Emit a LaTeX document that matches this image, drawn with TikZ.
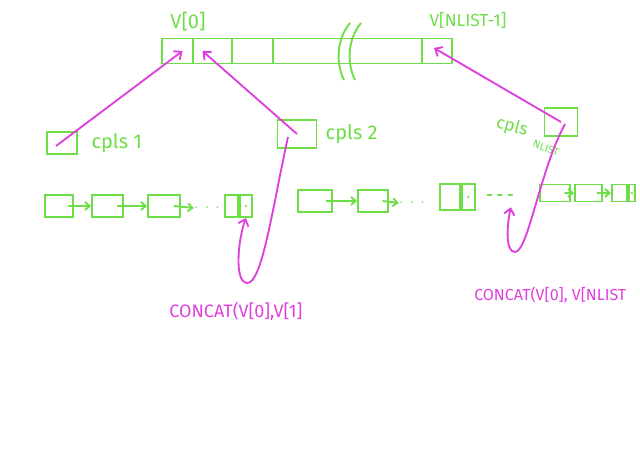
\documentclass[tikz,border=0pt]{standalone}
\usepackage{fontspec}
\setmainfont{Fira Sans}
\usepackage{tikz}
\usetikzlibrary{positioning}
\usetikzlibrary{arrows,arrows.meta}
\usetikzlibrary{calc}

\definecolor{hgreen}{RGB}{110,222,70}
\definecolor{hpink}{RGB}{222,64,222}

\tikzset{
	cell/.style = {draw=hgreen, line width=1.4pt, inner sep=0pt, minimum height=18.75pt},
	lbox/.style = {draw=hgreen, line width=1.4pt, inner sep=0pt, minimum height=16.5pt},
	glabel/.style = {text=hgreen, font=\fontsize{15}{15}\selectfont, inner sep=0pt},
	plabel/.style = {text=hpink, font=\fontsize{13.5}{13.5}\selectfont, inner sep=0pt},
	gdots/.style = {text=hgreen, font=\bfseries\fontsize{12}{12}\selectfont, inner sep=0pt},
	glink/.style = {draw=hgreen, line width=1.4pt, -{Straight Barb[length=3.5pt,width=6pt]}},
	plink/.style = {draw=hpink, line width=1.4pt, -{Straight Barb[length=4.5pt,width=8pt]}}
}

\begin{document}
\begin{tikzpicture}[x=0.75pt, y=-0.75pt]
\useasboundingbox (0,0) rectangle (640,453);

% the array V
\node[cell, minimum width=23.25pt] (c0) at (177.5,51) {};
\node[cell, minimum width=29.25pt] (c1) at (212.5,51) {};
\node[cell, minimum width=30.75pt] (c2) at (252.5,51) {};
\node[cell, minimum width=111.75pt] (c3) at (347.5,51) {};
\node[cell, minimum width=22.5pt] (cL) at (437,51) {};
\draw[hgreen, line width=1.4pt] (350,23) .. controls (336,40) and (336,64) .. (344,80);
\draw[hgreen, line width=1.4pt] (361,23) .. controls (347,40) and (347,64) .. (355,80);

\node[glabel] (v0) at (188,22) {V[0]};
\node[glabel, font=\fontsize{13}{13}\selectfont] (vL) at (468,20) {V[NLIST-1]};

% the cpls heads
\node[lbox, minimum width=22.5pt] (cp1) at (62,143) {};
\node[glabel, right=10pt of cp1] (cpl1) {cpls 1};
\node[lbox, minimum width=29.25pt, minimum height=21pt] (cp2) at (297,134) {};
\node[glabel, right=6pt of cp2] (cpl2) {cpls 2};
\node[lbox, minimum width=24.75pt, minimum height=21pt] (cpN) at (561,122) {};
\node[glabel, rotate=-15, font=\fontsize{13}{13}\selectfont] (cplN) at (512,127) {cpls};
\node[glabel, rotate=-20, font=\fontsize{8}{8}\selectfont] (cplNs) at (546,148) {NLIST};

% first list
\node[lbox, minimum width=21pt] (a1) at (59,206) {};
\node[lbox, minimum width=23.25pt] (a2) at (107.5,206) {};
\node[lbox, minimum width=24pt] (a3) at (164,206) {};
\node[gdots] (d1) at (207,208) {$\cdot\,\cdot\,\cdot$};
\node[lbox, minimum width=9.75pt] (a4a) at (231.5,206) {};
\node[lbox, minimum width=9pt, right=0pt of a4a] (a4b) {};
\fill[hgreen] (a4b.center) circle (0.9pt);

% second list
\node[lbox, minimum width=25.5pt] (b1) at (315,201) {};
\node[lbox, minimum width=22.5pt] (b2) at (373,201) {};
\node[gdots] (d2) at (412,203) {$\cdot\,\cdot\,\cdot$};
\node[lbox, minimum width=15pt, minimum height=20pt] (b3a) at (450,197) {};
\node[lbox, minimum width=9.75pt, minimum height=20pt, right=0pt of b3a] (b3b) {};
\fill[hgreen] (b3b.center) circle (0.9pt);
\node[gdots] (d3) at (500,198) {- - -};
\node[lbox, minimum width=22.5pt, minimum height=12.75pt] (b4) at (555,193) {};
\node[lbox, minimum width=20.25pt, minimum height=12.75pt] (b5) at (588.5,193) {};
\node[lbox, minimum width=11.25pt, minimum height=12.75pt] (b6a) at (619.5,193) {};
\node[lbox, minimum width=4.5pt, minimum height=12.75pt, right=0pt of b6a] (b6b) {};
\fill[hgreen] (b6b.center) circle (0.9pt);

\draw[glink] ($(a1.center)!0.6!(a1.east)$) -- (a2.west);
\draw[glink] ($(a2.center)!0.6!(a2.east)$) -- (a3.west);
\draw[glink] ($(a3.center)!0.6!(a3.east)$) -- (d1.west);
\draw[glink] ($(b1.center)!0.6!(b1.east)$) -- (b2.west);
\draw[glink] ($(b2.center)!0.6!(b2.east)$) -- (d2.west);
\draw[glink] ($(b4.center)!0.6!(b4.east)$) -- (b5.west);
\draw[glink] ($(b5.center)!0.6!(b5.east)$) -- (b6a.west);

% pointers into V
\draw[plink] ($(cp1.center)+(-6,3)$) -- ($(c0.center)+(5,0)$);
\draw[plink] (cp2.center) -- ($(c1.center)+(-10,0)$);
\draw[plink] (cpN.center) -- ($(cL.center)+(-3,-3)$);

% concat results
\draw[plink] ($(cp2.center)+(-9,3)$) .. controls (272,210) and (262,284) .. (247,283)
	.. controls (234,282) and (238,240) .. (a4b.south);
\draw[plink] ($(cpN.center)+(4,2)$) .. controls (540,170) and (528,252) .. (515,252)
	.. controls (505,252) and (507,225) .. ($(d3.south east)+(-3,6)$);

\node[plabel] (cc1) at (236,311) {CONCAT(V[0],V[1]};
\node[plabel, anchor=west, font=\fontsize{12}{12}\selectfont] (cc2) at (474,295) {CONCAT(V[0], V[NLIST};
\end{tikzpicture}
\end{document}
